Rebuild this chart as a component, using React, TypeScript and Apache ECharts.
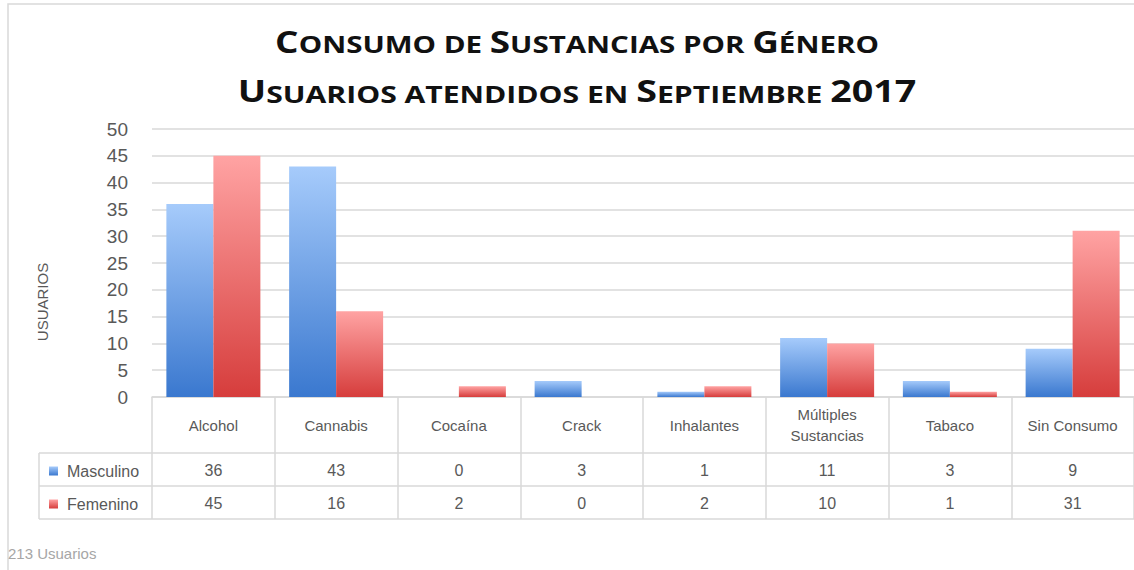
import React, { useEffect, useRef } from "react";
import * as echarts from "echarts";

const categories = ["Alcohol", "Cannabis", "Cocaína", "Crack", "Inhalantes", "Múltiples\nSustancias", "Tabaco", "Sin Consumo"];
const masculino = [36, 43, 0, 3, 1, 11, 3, 9];
const femenino = [45, 16, 2, 0, 2, 10, 1, 31];
const yTicks = { min: 0, max: 50, interval: 5 };
const titleLine1 = [["C", "ONSUMO DE "], ["S", "USTANCIAS POR "], ["G", "ÉNERO"]];
const titleLine2 = [["U", "SUARIOS ATENDIDOS EN "], ["S", "EPTIEMBRE "], ["2017", ""]];
const footnote = "213 Usuarios";

const FONT = "Liberation Sans";
const TITLE_FONT = "Open Sans";
const GRID_LEFT = 152;
const GRID_TOP = 129;
const GRID_W = 992;
const GRID_H = 268;
const LINE = "#d9d9d9";
const TXT = "#595959";

function smallCaps(parts: string[][]) {
  return parts.map(([a, b]) => `{a|${a}}` + (b ? `{b|${b}}` : "")).join("");
}

function grad(top: string, bottom: string) {
  return new echarts.graphic.LinearGradient(0, 0, 0, 1, [
    { offset: 0, color: top },
    { offset: 1, color: bottom },
  ]);
}

export default function App() {
  const ref = useRef<HTMLDivElement>(null);
  useEffect(() => {
    document.body.style.margin = "0";
    const chart = echarts.init(ref.current!, null, { renderer: "svg" });
    const tableBottom = GRID_TOP + GRID_H + 122;
    const rowY1 = GRID_TOP + GRID_H + 56;
    const rowY2 = rowY1 + 33;
    const rich = {
      a: { fontFamily: TITLE_FONT, fontWeight: "bold", fontSize: 30, fill: "#111", verticalAlign: "bottom" },
      b: { fontFamily: TITLE_FONT, fontWeight: "bold", fontSize: 24, fill: "#111", verticalAlign: "bottom" },
    };
    const titleText = (parts: string[][], y: number, sx: number) => ({
      type: "text",
      x: 577,
      y,
      scaleX: sx,
      style: {
        text: smallCaps(parts),
        rich,
        align: "center",
        verticalAlign: "middle",
        fontFamily: TITLE_FONT,
        fontWeight: "bold",
        fontSize: 30,
        fill: "#111",
      },
    });
    chart.setOption({
      animation: false,
      backgroundColor: "#fff",
      legend: {
        orient: "vertical",
        left: 44,
        top: rowY1 + 5,
        itemWidth: 9,
        itemHeight: 9,
        itemGap: 17,
        icon: "rect",
        textStyle: { fontFamily: FONT, fontSize: 16, color: TXT, lineHeight: 16, padding: [0, 0, 0, 4] },
        data: ["Masculino", "Femenino"],
      },
      grid: { left: GRID_LEFT, top: GRID_TOP, width: GRID_W, height: GRID_H },
      xAxis: [
        {
          type: "category",
          data: categories,
          axisLine: { show: true, lineStyle: { color: LINE, width: 1.5 } },
          axisTick: { show: true, length: 122, lineStyle: { color: LINE, width: 1.5 } },
          axisLabel: {
            interval: 0,
            margin: 28,
            verticalAlign: "middle",
            lineHeight: 21,
            fontFamily: FONT,
            fontSize: 15,
            color: TXT,
          },
        },
        {
          type: "category",
          data: categories,
          position: "bottom",
          axisLine: { show: false },
          axisTick: { show: false },
          axisLabel: {
            interval: 0,
            margin: 89.5,
            verticalAlign: "middle",
            lineHeight: 33,
            fontFamily: FONT,
            fontSize: 16,
            color: TXT,
            formatter: (_v: string, i: number) => `${masculino[i]}\n${femenino[i]}`,
          },
        },
      ],
      yAxis: {
        type: "value",
        min: yTicks.min,
        max: yTicks.max,
        interval: yTicks.interval,
        axisLine: { show: false },
        axisTick: { show: false },
        axisLabel: { margin: 24, fontFamily: FONT, fontSize: 19, color: TXT },
        splitLine: { lineStyle: { color: LINE, width: 1.5 } },
      },
      series: [
        {
          name: "Masculino",
          type: "bar",
          data: masculino,
          barWidth: 47,
          barGap: "0%",
          itemStyle: { color: grad("#a6cbfb", "#3a78cf"), borderWidth: 0 },
        },
        {
          name: "Femenino",
          type: "bar",
          data: femenino,
          barWidth: 47,
          barGap: "0%",
          itemStyle: { color: grad("#ffa3a3", "#d63d3c"), borderWidth: 0 },
        },
      ],
      graphic: [
        { type: "rect", shape: { x: 8, y: 4, width: 1200, height: 620 }, style: { fill: "none", stroke: LINE, lineWidth: 1.5 }, silent: true },
        titleText(titleLine1, 41, 1.23),
        titleText(titleLine2, 91, 1.255),
        { type: "line", shape: { x1: 39, y1: rowY1, x2: GRID_LEFT + GRID_W, y2: rowY1 }, style: { stroke: LINE, lineWidth: 1.5 } },
        { type: "line", shape: { x1: 39, y1: rowY2, x2: GRID_LEFT + GRID_W, y2: rowY2 }, style: { stroke: LINE, lineWidth: 1.5 } },
        { type: "line", shape: { x1: 39, y1: tableBottom, x2: GRID_LEFT + GRID_W, y2: tableBottom }, style: { stroke: LINE, lineWidth: 1.5 } },
        { type: "line", shape: { x1: 39, y1: rowY1, x2: 39, y2: tableBottom }, style: { stroke: LINE, lineWidth: 1.5 } },
        {
          type: "text",
          x: 42,
          y: 302,
          rotation: Math.PI / 2,
          style: { text: "USUARIOS", align: "center", verticalAlign: "middle", fontFamily: FONT, fontSize: 15, fill: TXT },
        },
        {
          type: "text",
          x: 8,
          y: 553,
          style: { text: footnote, align: "left", verticalAlign: "middle", fontFamily: FONT, fontSize: 15, fill: "#a6a6a6" },
        },
      ],
    });
    return () => chart.dispose();
  }, []);
  return <div ref={ref} style={{ width: 1134, height: 570 }} />;
}
